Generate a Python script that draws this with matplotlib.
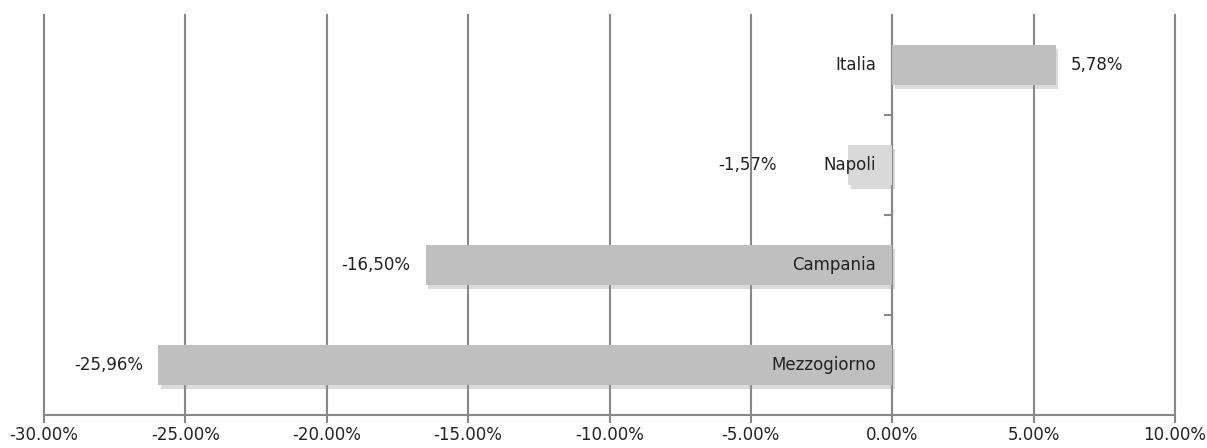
import matplotlib
matplotlib.use("Agg")
import matplotlib.pyplot as plt
import matplotlib.patheffects as pe

plt.rcParams['font.family'] = ['Liberation Sans Narrow', 'DejaVu Sans']

regions = ["Italia", "Napoli", "Campania", "Mezzogiorno"]
changes = [5.78, -1.57, -16.50, -25.96]
bar_colors = ["#bfbfbf", "#d9d9d9", "#bfbfbf", "#bfbfbf"]
x_ticks = [-30, -25, -20, -15, -10, -5, 0, 5, 10]

fig = plt.figure(figsize=(12.07, 4.48), dpi=100)
ax = fig.add_axes([44 / 1207, 33 / 448, 1131 / 1207, 400 / 448])

ypos = list(range(len(regions) - 1, -1, -1))
shadow = [pe.SimplePatchShadow(offset=(2, -3), shadow_rgbFace="#999999", alpha=0.35), pe.Normal()]
bars = ax.barh(ypos, changes, height=0.4, color=bar_colors, zorder=3, path_effects=shadow)

# value labels: outside the bar end; Napoli pushed past its category label
label_gap = {"Napoli": 71}
for y, v, name in zip(ypos, changes, regions):
    gap = label_gap.get(name, 15)
    txt = f"{v:.2f}%".replace(".", ",")
    if v >= 0:
        ax.annotate(txt, (v, y), xytext=(gap, 0), textcoords="offset pixels",
                    ha="left", va="center", fontsize=12, color="#222222", zorder=4)
    else:
        ax.annotate(txt, (v, y), xytext=(-gap, 0), textcoords="offset pixels",
                    ha="right", va="center", fontsize=12, color="#222222", zorder=4)
    ax.annotate(name, (0, y), xytext=(-16, 0), textcoords="offset pixels",
                ha="right", va="center", fontsize=12, color="#222222", zorder=4)

ax.set_xlim(-30, 10)
ax.set_ylim(-0.5, 3.5)
ax.set_xticks(x_ticks)
ax.set_xticklabels([f"{t:.2f}%" for t in x_ticks], fontsize=12, color="#222222")
ax.tick_params(axis="x", length=6, width=1.5, color="#888888", pad=2)
ax.grid(axis="x", color="#888888", linewidth=1.5, zorder=1)
for gl in ax.get_xgridlines():
    gl.set_clip_on(False)

# category separators on the zero line
ax.set_yticks([])
for y in [0.5, 1.5, 2.5]:
    ax.plot([-0.25, 0], [y, y], color="#888888", linewidth=1.5, zorder=2, clip_on=False)
ax.axvline(0, color="#888888", linewidth=1.5, zorder=2)

for side in ["top", "left", "right"]:
    ax.spines[side].set_visible(False)
ax.spines["bottom"].set_color("#888888")
ax.spines["bottom"].set_linewidth(1.5)

fig.savefig("out.png", dpi=100)
